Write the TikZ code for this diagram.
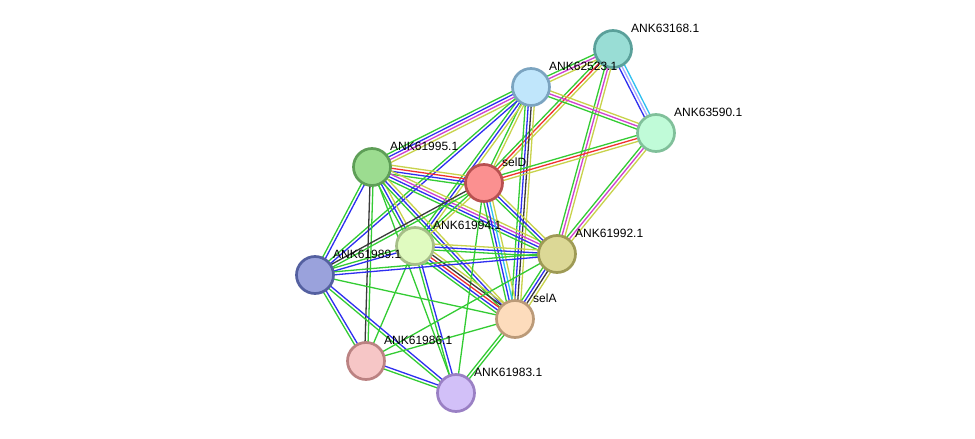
\documentclass[tikz,border=0pt]{standalone}
\usepackage{fontspec}
\setmainfont{Liberation Sans}
\usetikzlibrary{calc}
\pgfdeclarelayer{bg}
\pgfsetlayers{bg,main}
\definecolor{sgreen}{HTML}{33CC33}
\definecolor{syellow}{HTML}{C8D24A}
\definecolor{sblue}{HTML}{2E2EF0}
\definecolor{sblack}{HTML}{3A3A3A}
\definecolor{smagenta}{HTML}{D040D0}
\definecolor{sred}{HTML}{F03030}
\definecolor{scyan}{HTML}{30C0F0}
\definecolor{slav}{HTML}{A8A8FF}
\newcommand{\sedge}[3]{%
  \gdef\ncol{0}%
  \foreach \c in {#3}{\xdef\ncol{\the\numexpr\ncol+1\relax}}%
  \foreach[count=\i] \c in {#3}{%
    \pgfmathsetmacro\off{(\i-(\ncol+1)/2)*3.0}%
    \draw[\c, line width=1.3pt] ($(#1)!\off pt!90:(#2)$) -- ($(#2)!\off pt!-90:(#1)$);}%
}
\tikzset{
  prot/.style={circle, minimum size=37pt, inner sep=0pt, line width=2.7pt},
  lab/.style={anchor=west, font=\fontsize{12}{13}\selectfont, inner sep=0pt}
}
\begin{document}
\begin{tikzpicture}[x=1pt,y=-1pt]
\useasboundingbox (0,0) rectangle (975,439);
\node[prot, fill={rgb,255:red,153;green,221;blue,213}, draw={rgb,255:red,90;green,160;blue,154}] (A) at (613,49) {};
\node[prot, fill={rgb,255:red,192;green,230;blue,251}, draw={rgb,255:red,123;green,164;blue,192}] (B) at (531,87) {};
\node[prot, fill={rgb,255:red,192;green,251;blue,216}, draw={rgb,255:red,128;green,192;blue,154}] (C) at (656,133) {};
\node[prot, fill={rgb,255:red,156;green,220;blue,144}, draw={rgb,255:red,94;green,158;blue,87}] (D) at (372,167) {};
\node[prot, fill={rgb,255:red,251;green,144;blue,144}, draw={rgb,255:red,184;green,80;blue,80}] (E) at (484,183) {};
\node[prot, fill={rgb,255:red,224;green,251;blue,192}, draw={rgb,255:red,166;green,190;blue,136}] (F) at (415,246) {};
\node[prot, fill={rgb,255:red,220;green,216;blue,150}, draw={rgb,255:red,158;green,154;blue,85}] (G) at (557,254) {};
\node[prot, fill={rgb,255:red,154;green,162;blue,220}, draw={rgb,255:red,84;green,96;blue,160}] (H) at (315,275) {};
\node[prot, fill={rgb,255:red,253;green,220;blue,188}, draw={rgb,255:red,187;green,154;blue,120}] (I) at (515,319) {};
\node[prot, fill={rgb,255:red,246;green,198;blue,198}, draw={rgb,255:red,187;green,130;blue,130}] (J) at (366,361) {};
\node[prot, fill={rgb,255:red,210;green,192;blue,248}, draw={rgb,255:red,154;green,128;blue,196}] (K) at (456,393) {};
\node[lab] (lA) at ($(A)+(18,-21)$) {ANK63168.1};
\node[lab] (lB) at ($(B)+(18,-21)$) {ANK62523.1};
\node[lab] (lC) at ($(C)+(18,-21)$) {ANK63590.1};
\node[lab] (lD) at ($(D)+(18,-21)$) {ANK61995.1};
\node[lab] (lE) at ($(E)+(18,-21)$) {selD};
\node[lab] (lF) at ($(F)+(18,-21)$) {ANK61994.1};
\node[lab] (lG) at ($(G)+(18,-21)$) {ANK61992.1};
\node[lab] (lH) at ($(H)+(18,-21)$) {ANK61989.1};
\node[lab] (lI) at ($(I)+(18,-21)$) {selA};
\node[lab] (lJ) at ($(J)+(18,-21)$) {ANK61986.1};
\node[lab] (lK) at ($(K)+(18,-21)$) {ANK61983.1};
\begin{pgfonlayer}{bg}
\fill[white] (0,0) rectangle (975,439);
\sedge{A}{B}{sgreen,smagenta,syellow}
\sedge{A}{C}{sblue,slav,scyan}
\sedge{A}{E}{sgreen,sred,syellow}
\sedge{A}{G}{sgreen,smagenta,syellow}
\sedge{B}{C}{sgreen,smagenta,syellow}
\sedge{B}{D}{sgreen,sblue,smagenta,syellow}
\sedge{B}{E}{sgreen,syellow}
\sedge{B}{F}{sgreen,sblue,syellow}
\sedge{B}{H}{sgreen,sblue}
\sedge{B}{I}{sgreen,sblue,sblack,syellow}
\sedge{C}{E}{sgreen,sred,syellow}
\sedge{C}{G}{sgreen,smagenta,syellow}
\sedge{D}{E}{sgreen,sblue,sred,syellow}
\sedge{D}{F}{sgreen,sblue,syellow}
\sedge{D}{G}{sgreen,sblue,smagenta,syellow}
\sedge{D}{H}{sgreen,sblue}
\sedge{D}{I}{sgreen,sblue,syellow}
\sedge{D}{J}{sblack,sgreen}
\sedge{D}{K}{sgreen}
\sedge{E}{F}{sgreen,syellow}
\sedge{E}{H}{sblack,sgreen}
\sedge{E}{G}{sgreen,sblue,syellow}
\sedge{E}{I}{sgreen,sblue,scyan,syellow}
\sedge{E}{K}{sgreen}
\sedge{F}{G}{sgreen,sblue,syellow}
\sedge{F}{H}{sgreen,sblue}
\sedge{F}{I}{sgreen,sblue,sred,sblack,syellow}
\sedge{F}{J}{sgreen}
\sedge{F}{K}{sgreen,sblue}
\sedge{G}{H}{sgreen,sblue}
\sedge{G}{I}{sgreen,sblue,sblack,syellow}
\sedge{G}{J}{sgreen}
\sedge{H}{I}{sgreen}
\sedge{H}{J}{sgreen,sblue}
\sedge{H}{K}{sgreen,sblue}
\sedge{I}{J}{sgreen}
\sedge{I}{K}{sgreen,sgreen}
\sedge{J}{K}{sgreen,sblue}
\end{pgfonlayer}
\end{tikzpicture}
\end{document}
